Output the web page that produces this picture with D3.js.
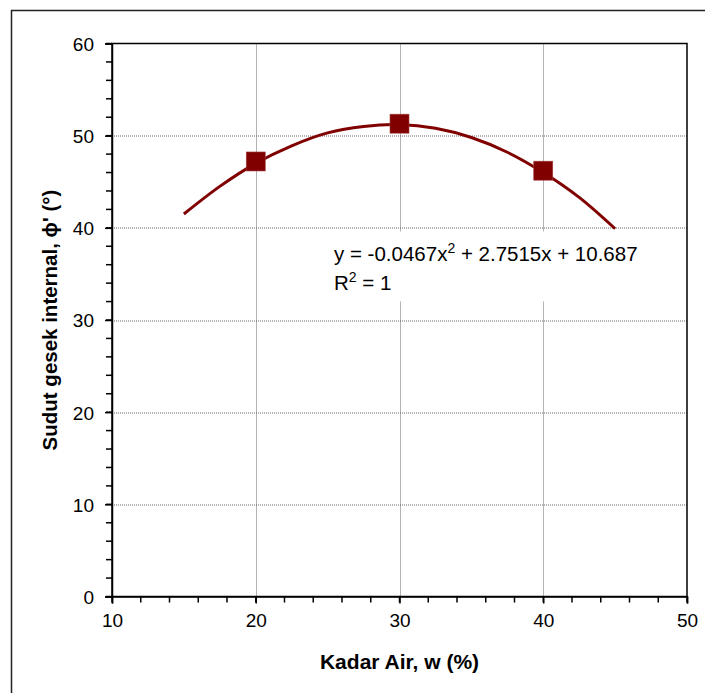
<!DOCTYPE html>
<html>
<head>
<meta charset="utf-8">
<script src="https://cdn.jsdelivr.net/npm/d3@7"></script>
<style>
  body { margin: 0; background: #fff; }
  svg { display: block; font-family: "Liberation Sans", Arial, sans-serif; }
</style>
</head>
<body>
<svg></svg>
<script>
const WIDTH = 705;
const HEIGHT = 693;

// measured points
const kadarAir = [20, 30, 40];
const sudutGesek = [47.2, 51.3, 46.2];

// polynomial trendline
const trendX = [15, 17.5, 20, 22.5, 25, 27.5, 30, 32.5, 35, 37.5, 40, 42.5, 45];
const trendY = [41.5, 44.5, 47.0, 48.9, 50.3, 51.0, 51.2, 50.8, 49.8, 48.2, 46.0, 43.3, 39.9];

const xTicks = [10, 20, 30, 40, 50];
const yTicks = [0, 10, 20, 30, 40, 50, 60];
const equationText = ["y = -0.0467x", "2", " + 2.7515x + 10.687"];
const r2Text = ["R", "2", " = 1"];

const margin = {left: 112, right: 18, top: 43.5, bottom: 96.5};
const plotW = WIDTH - margin.left - margin.right;
const plotH = HEIGHT - margin.top - margin.bottom;

const svg = d3.select('svg')
    .attr('width', WIDTH)
    .attr('height', HEIGHT);

// outer chart frame
svg.append('rect')
    .attr('x', 11.5).attr('y', 10.5)
    .attr('width', WIDTH).attr('height', HEIGHT)
    .attr('fill', 'none')
    .attr('stroke', '#222')
    .attr('stroke-width', 1.5);

const g = svg.append('g').attr('transform', 'translate(' + margin.left + ',' + margin.top + ')');

const xScale = d3.scaleLinear().domain([10, 50]).range([0, plotW]);
const yScale = d3.scaleLinear().domain([0, 60]).range([plotH, 0]);

// grid lines (dotted)
g.append('g').selectAll('line')
    .data(xTicks.slice(1, -1))
    .enter().append('line')
    .attr('x1', d => Math.round(xScale(d)) + 0.5).attr('x2', d => Math.round(xScale(d)) + 0.5)
    .attr('y1', 0).attr('y2', plotH)
    .attr('stroke', '#666').attr('stroke-dasharray', '1,1');
g.append('g').selectAll('line')
    .data(yTicks.slice(1, -1))
    .enter().append('line')
    .attr('y1', d => Math.round(yScale(d)) + 0.5).attr('y2', d => Math.round(yScale(d)) + 0.5)
    .attr('x1', 0).attr('x2', plotW)
    .attr('stroke', '#666').attr('stroke-dasharray', '1,1');

// white box behind equation
g.append('rect')
    .attr('x', 218).attr('y', 188)
    .attr('width', 340).attr('height', 70)
    .attr('fill', '#fff');

// plot frame
g.append('rect')
    .attr('x', 0).attr('y', 0)
    .attr('width', plotW).attr('height', plotH)
    .attr('fill', 'none')
    .attr('stroke', '#000').attr('stroke-width', 1.5);

// minor ticks every 2 units
const minorX = d3.range(10, 50.1, 2);
const minorY = d3.range(0, 60.1, 2);
g.append('g').selectAll('line').data(minorX).enter().append('line')
    .attr('x1', d => xScale(d)).attr('x2', d => xScale(d))
    .attr('y1', plotH).attr('y2', plotH + 6)
    .attr('stroke', '#000').attr('stroke-width', 1.5);
g.append('g').selectAll('line').data(minorY).enter().append('line')
    .attr('y1', d => yScale(d)).attr('y2', d => yScale(d))
    .attr('x1', 0).attr('x2', -6)
    .attr('stroke', '#000').attr('stroke-width', 1.5);

// axes
const bottomAxis = d3.axisBottom(xScale).tickValues(xTicks).tickSize(7).tickPadding(10).tickFormat(d3.format('d'));
const xAxisG = g.append('g').attr('transform', 'translate(0,' + plotH + ')').call(bottomAxis);
const leftAxis = d3.axisLeft(yScale).tickValues(yTicks).tickSize(7).tickPadding(11).tickFormat(d3.format('d'));
const yAxisG = g.append('g').call(leftAxis);
[xAxisG, yAxisG].forEach(a => {
    a.select('.domain').attr('stroke', '#000').attr('stroke-width', 1.5);
    a.selectAll('.tick line').attr('stroke', '#000').attr('stroke-width', 1.5);
    a.selectAll('.tick text').attr('font-size', 19).attr('fill', '#000')
        .attr('font-family', '"Liberation Sans", Arial, sans-serif');
});
yAxisG.selectAll('.tick text').attr('dy', '0.36em');

// trendline
const line = d3.line()
    .x((d, i) => xScale(trendX[i]))
    .y(d => yScale(d))
    .curve(d3.curveCatmullRom);
g.append('path')
    .datum(trendY)
    .attr('d', line)
    .attr('fill', 'none')
    .attr('stroke', '#800000')
    .attr('stroke-width', 3);

// markers
g.append('g').selectAll('rect')
    .data(sudutGesek)
    .enter().append('rect')
    .attr('x', (d, i) => xScale(kadarAir[i]) - 9.5)
    .attr('y', d => yScale(d) - 9.5)
    .attr('width', 19).attr('height', 19)
    .attr('fill', '#800000')
    .attr('stroke', '#a04040').attr('stroke-width', 0.6);

// equation
function addSup(parts, x, y) {
    const t = g.append('text').attr('x', x).attr('y', y)
        .attr('font-size', 20.5).attr('fill', '#000');
    t.append('tspan').text(parts[0]);
    t.append('tspan').attr('dy', -8).attr('font-size', 14).text(parts[1]);
    t.append('tspan').attr('dy', 8).text(parts[2]);
}
addSup(equationText, 222, 217);
addSup(r2Text, 222, 246.5);

// axis titles
svg.append('text')
    .attr('x', margin.left + plotW / 2).attr('y', 669)
    .attr('text-anchor', 'middle')
    .attr('font-size', 21).attr('font-weight', 'bold')
    .text('Kadar Air, w (%)');

svg.append('text')
    .attr('transform', 'translate(57,' + (margin.top + plotH / 2) + ') rotate(-90)')
    .attr('text-anchor', 'middle')
    .attr('font-size', 20.5).attr('font-weight', 'bold')
    .text("Sudut gesek internal,  \u03D5' (\u00B0)");
</script>
</body>
</html>
